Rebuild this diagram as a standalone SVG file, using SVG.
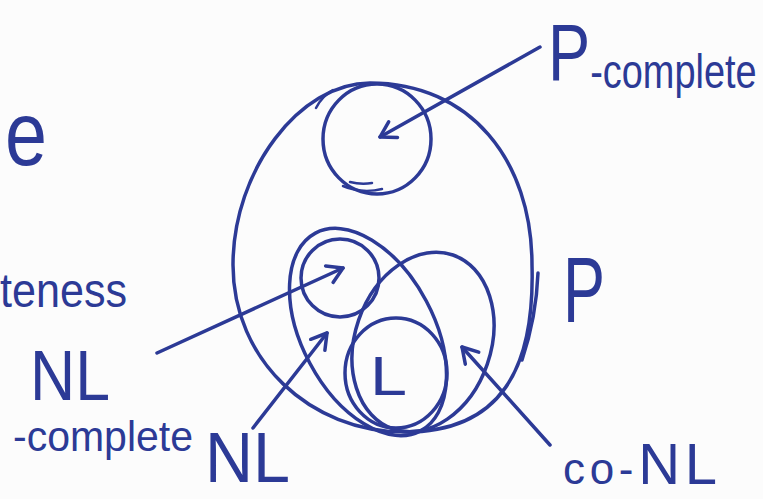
<svg xmlns="http://www.w3.org/2000/svg" width="763" height="499" viewBox="0 0 763 499">
  <style>
    .ink { fill: none; stroke: #2c3a96; stroke-width: 3.5; stroke-linecap: round; stroke-linejoin: round; }
    .thin { fill: none; stroke: #2c3a96; stroke-width: 2.5; stroke-linecap: round; }
    .lbl { fill: #2c3a96; font-family: "Liberation Sans", "DejaVu Sans", sans-serif; }
  </style>
  <defs>
    <marker id="arrow" viewBox="-18 -12 22 24" refX="0" refY="0" markerWidth="22" markerHeight="24" markerUnits="userSpaceOnUse" orient="auto">
      <path d="M-15,-9 L0,0 L-15,9" fill="none" stroke="#2c3a96" stroke-width="3.5" stroke-linecap="round" stroke-linejoin="round"/>
    </marker>
  </defs>
  <rect x="0" y="0" width="763" height="499" fill="#fcfcfc"/>

  <g id="node-P">
    <path class="ink" d="M370,83 C300,83 233,170 233,265 C233,360 310,432 405,432 C500,432 535,370 532,265 C532,160 470,83 370,83 Z"/>
    <path class="ink" d="M538,273 C537,300 532,330 522,360"/>
    <path class="thin" d="M316,108 C320,100 326,94 333,90"/>
    <text class="lbl" x="563" y="322" font-size="92" textLength="42" lengthAdjust="spacingAndGlyphs">P</text>
  </g>

  <g id="node-P-complete">
    <ellipse class="ink" cx="377" cy="139" rx="54" ry="55"/>
    <path class="thin" d="M343,186 C355,191 370,192 382,189"/>
    <path class="thin" d="M350,182 C358,184 365,184 372,183"/>
    <text class="lbl" transform="translate(548 80) scale(0.79 1)"><tspan font-size="80">P</tspan><tspan font-size="48" dy="8">-complete</tspan></text>
  </g>

  <g id="node-NL">
    <ellipse class="ink" cx="368" cy="332" rx="112" ry="66" transform="rotate(62 368 332)"/>
    <text class="lbl" x="205" y="482" font-size="70" textLength="85" lengthAdjust="spacingAndGlyphs">NL</text>
  </g>

  <g id="node-NL-complete">
    <circle class="ink" cx="340" cy="278" r="39"/>
    <text class="lbl" font-size="70"><tspan x="30" y="400" textLength="80" lengthAdjust="spacingAndGlyphs">NL</tspan><tspan x="13" y="451" font-size="42" textLength="180" lengthAdjust="spacingAndGlyphs">-complete</tspan></text>
  </g>

  <g id="node-co-NL">
    <ellipse class="ink" cx="423" cy="342" rx="92" ry="68" transform="rotate(109 423 342)"/>
    <text class="lbl" x="563" y="484" textLength="154" lengthAdjust="spacing"><tspan font-size="44">co-</tspan><tspan font-size="58">NL</tspan></text>
  </g>

  <g id="node-L">
    <ellipse class="ink" cx="396" cy="373" rx="51" ry="55"/>
    <text class="lbl" x="370" y="395" font-size="55" textLength="37" lengthAdjust="spacingAndGlyphs">L</text>
  </g>

  <g id="labels-partial">
    <text class="lbl" x="5" y="165" font-size="90" textLength="42" lengthAdjust="spacingAndGlyphs">e</text>
    <text class="lbl" x="0" y="307" font-size="48" textLength="127" lengthAdjust="spacingAndGlyphs">teness</text>
  </g>

  <g id="connectors">
    <path class="ink" d="M540,47 L380,137" marker-end="url(#arrow)"/>
    <path class="ink" d="M157,353 L343,268" marker-end="url(#arrow)"/>
    <path class="ink" d="M253,428 L327,333" marker-end="url(#arrow)"/>
    <path class="ink" d="M550,445 L462,347" marker-end="url(#arrow)"/>
  </g>
</svg>
